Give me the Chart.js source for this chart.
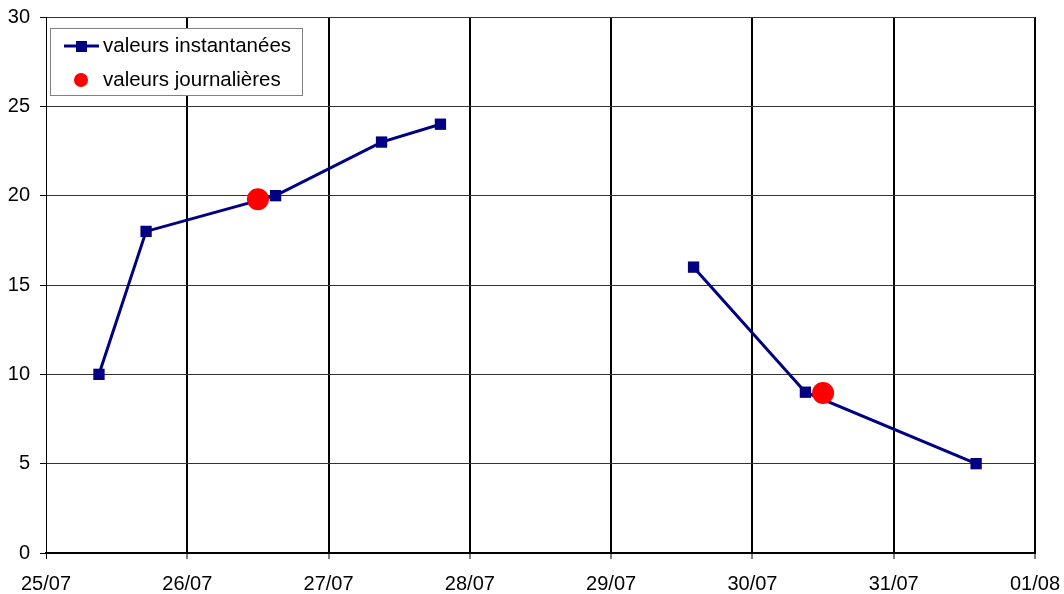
<!DOCTYPE html>
<html>
<head>
<meta charset="utf-8">
<script src="https://cdn.jsdelivr.net/npm/chart.js"></script>
<style>
  html, body { margin: 0; padding: 0; background: #fff; }
  #wrap { width: 1064px; height: 594px; }
</style>
</head>
<body>
<div id="wrap"><canvas id="chart" width="1064" height="594"></canvas></div>
<script>
// axis days (x ticks) and y ticks
const dayLabels = ['25/07', '26/07', '27/07', '28/07', '29/07', '30/07', '31/07', '01/08'];
const yTicks = [0, 5, 10, 15, 20, 25, 30];

// "valeurs instantanées" - null breaks the line (no data 28/07-29/07)
const instTimes = ['25/07 09:00', '25/07 17:00', '26/07 15:00', '27/07 09:00', '27/07 19:00',
                   '28/07 12:00', '29/07 14:00', '30/07 09:00', '31/07 14:00'];
const instValues = [10, 18, 20, 23, 24, null, 16, 9, 5];

// "valeurs journalières"
const dailyTimes = ['26/07 12:00', '30/07 12:00'];
const dailyValues = [19.8, 8.95];

// 'dd/mm hh:mm' -> days since 25/07 00:00
function toDays(s) {
  const [d, t] = s.split(' ');
  const [h, m] = t.split(':').map(Number);
  return dayLabels.indexOf(d) + (h + m / 60) / 24;
}

const FONT = 'Liberation Sans, Arial, sans-serif';
const NAVY = '#000080';

// legend box drawn inside the plot area, top-left
const boxLegend = {
  id: 'boxLegend',
  afterDraw(chart) {
    const ctx = chart.ctx;
    const x0 = 50.5, y0 = 28.5, w = 252, h = 67;
    ctx.save();
    ctx.fillStyle = '#fff';
    ctx.fillRect(x0, y0, w, h);
    ctx.strokeStyle = '#808080';
    ctx.lineWidth = 1;
    ctx.strokeRect(x0, y0, w, h);

    // line + square
    ctx.strokeStyle = NAVY;
    ctx.lineWidth = 3;
    ctx.beginPath();
    ctx.moveTo(64, 46);
    ctx.lineTo(99, 46);
    ctx.stroke();
    ctx.fillStyle = NAVY;
    ctx.fillRect(76, 41, 11, 11);

    // red dot
    ctx.fillStyle = '#ff0000';
    ctx.beginPath();
    ctx.arc(81, 80, 7, 0, Math.PI * 2);
    ctx.fill();

    ctx.fillStyle = '#000';
    ctx.font = '20.5px ' + FONT;
    ctx.textBaseline = 'middle';
    ctx.textAlign = 'left';
    ctx.fillText('valeurs instantanées', 103, 46);
    ctx.fillText('valeurs journalières', 103, 80);
    ctx.restore();
  }
};

// keep the plot box fixed, whatever the label sizes
function fixPad(s) {
  s.paddingTop = 0; s.paddingBottom = 0; s.paddingLeft = 0; s.paddingRight = 0;
}

const ctx = document.getElementById('chart').getContext('2d');
new Chart(ctx, {
  type: 'line',
  data: {
    datasets: [
      {
        label: 'valeurs journalières',
        data: dailyTimes.map((t, i) => ({ x: toDays(t), y: dailyValues[i] })),
        showLine: false,
        pointStyle: 'circle',
        pointRadius: 11,
        pointBackgroundColor: '#ff0000',
        pointBorderWidth: 0,
        order: 0
      },
      {
        label: 'valeurs instantanées',
        data: instTimes.map((t, i) => ({ x: toDays(t), y: instValues[i] })),
        borderColor: NAVY,
        borderWidth: 3,
        tension: 0,
        spanGaps: false,
        pointStyle: 'rect',
        pointRadius: 8,
        pointBackgroundColor: NAVY,
        pointBorderColor: NAVY,
        pointBorderWidth: 0,
        order: 1
      }
    ]
  },
  options: {
    responsive: false,
    animation: false,
    events: [],
    layout: { padding: { top: 17, right: 29, left: 0, bottom: 0 } },
    plugins: {
      legend: { display: false },
      tooltip: { enabled: false },
      title: { display: false }
    },
    scales: {
      x: {
        type: 'linear',
        min: 0,
        max: 7,
        afterBuildTicks: s => { s.ticks = dayLabels.map((_, i) => ({ value: i })); },
        ticks: {
          callback: v => dayLabels[v],
          color: '#000',
          font: { family: FONT, size: 20 },
          padding: 13,
          maxRotation: 0,
          autoSkip: false
        },
        grid: {
          color: '#000',
          lineWidth: c => (c.index === 0 ? 1 : 2),
          tickLength: 6,
          tickColor: '#000',
          tickWidth: 1
        },
        border: { color: '#000', width: 2 },
        afterFit: s => { s.height = 41; fixPad(s); }
      },
      y: {
        min: 0,
        max: 30,
        afterBuildTicks: s => { s.ticks = yTicks.map(v => ({ value: v })); },
        ticks: {
          color: '#000',
          font: { family: FONT, size: 20 },
          padding: 10
        },
        grid: {
          color: '#333',
          lineWidth: 1,
          tickLength: 6,
          tickColor: '#000',
          tickWidth: 1
        },
        border: { color: '#000', width: 1 },
        afterFit: s => { s.width = 46; fixPad(s); }
      }
    }
  },
  plugins: [boxLegend]
});
</script>
</body>
</html>
